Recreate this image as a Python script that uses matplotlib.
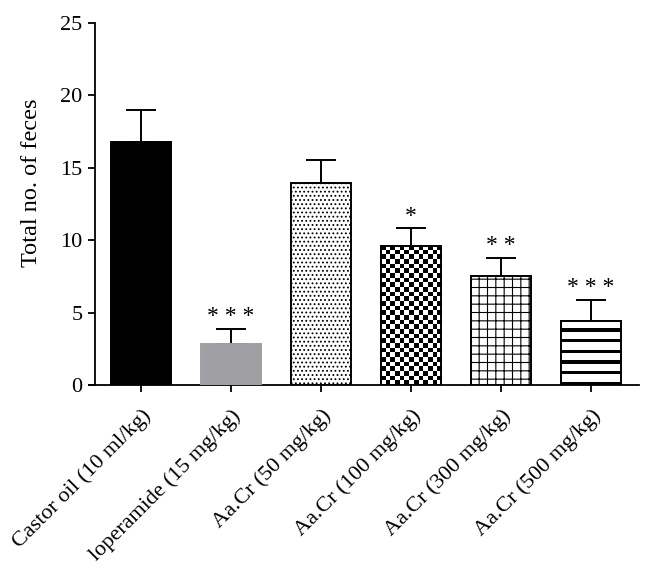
import numpy as np
import matplotlib.pyplot as plt

plt.rcParams['font.family'] = ['Liberation Serif', 'DejaVu Serif']
plt.rcParams['hatch.linewidth'] = 0.8

groups = ['Castor oil (10 ml/kg)', 'loperamide (15 mg/kg)', 'Aa.Cr (50 mg/kg)',
          'Aa.Cr (100 mg/kg)', 'Aa.Cr (300 mg/kg)', 'Aa.Cr (500 mg/kg)']
means = [16.75, 2.8, 13.95, 9.6, 7.55, 4.4]
errors = [2.25, 1.1, 1.6, 1.25, 1.25, 1.5]
stars = ['', '***', '', '*', '**', '***']

fig = plt.figure(figsize=(6.53, 5.72), dpi=100)
ax = fig.add_axes([89 / 653, 187 / 572, 550 / 653, 362 / 572])

x = np.arange(len(groups))
w = 0.67

faces = ['black', '#a0a0a4', 'white', 'white', 'white', 'white']
edges = ['black', '#a0a0a4', 'black', 'black', 'black', 'black']
hatches = [None, None, '....', None, '++', None]

bars = ax.bar(x, means, w, color=faces, edgecolor=edges, linewidth=1.4, zorder=3)
for b, h in zip(bars, hatches):
    if h:
        b.set_hatch(h)

# checkerboard fill for the 100 mg/kg bar
px_per_unit = 362 / 25
cell = 4.7
i = 3
ncol = int(round(w * 90 / cell))
nrow = int(round(means[i] * px_per_unit / cell))
checker = (np.add.outer(np.arange(nrow), np.arange(ncol)) % 2)
ax.imshow(checker, cmap='gray', interpolation='nearest', aspect='auto',
          extent=(x[i] - w / 2, x[i] + w / 2, 0, means[i]), zorder=3)
ax.bar(x[i], means[i], w, color='none', edgecolor='black', linewidth=1.4, zorder=4)

# thick horizontal stripes for the 500 mg/kg bar
i = 5
stripe = np.array([[1], [1], [1], [1], [1], [1], [1], [0], [0], [0]])
nrep = int(round(means[i] * px_per_unit / 10))
ax.imshow(np.tile(stripe, (nrep, 1)), cmap='gray', interpolation='nearest',
          aspect='auto', extent=(x[i] - w / 2, x[i] + w / 2, 0, means[i]), zorder=3)
ax.bar(x[i], means[i], w, color='none', edgecolor='black', linewidth=1.4, zorder=4)

ax.errorbar(x, means, yerr=[np.zeros(len(x)), errors], fmt='none', ecolor='black',
            elinewidth=1.4, capsize=10.5, capthick=1.4, zorder=2)

for xi, m, e, s in zip(x, means, errors, stars):
    if s:
        ax.annotate(' '.join(s), (xi, m + e), xytext=(0, 1), textcoords='offset points',
                    ha='center', va='bottom', fontsize=17)

ax.set_xlim(-0.578, 5.533)
ax.set_ylim(0, 25)
ax.set_yticks([0, 5, 10, 15, 20, 25])
ax.set_xticks(x)
ax.set_xticklabels(groups, rotation=45, ha='right', rotation_mode='anchor', fontsize=16)
ax.tick_params(axis='y', labelsize=16, length=5, width=1.3, pad=4)
ax.tick_params(axis='x', length=5, width=1.3, pad=10)
ax.set_ylabel('Total no. of feces', fontsize=17.5)
ax.yaxis.set_label_coords(-0.085, 0.56)

ax.spines['top'].set_visible(False)
ax.spines['right'].set_visible(False)
ax.spines['left'].set_position(('data', -0.51))
ax.spines['left'].set_linewidth(1.3)
ax.spines['bottom'].set_linewidth(1.3)

fig.savefig('out.png', dpi=100)
